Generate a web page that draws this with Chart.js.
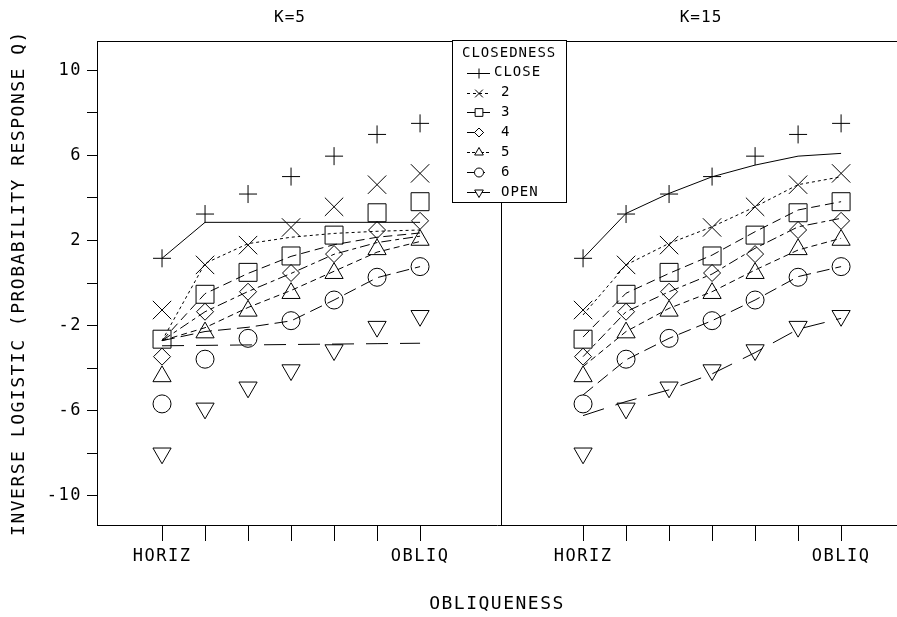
<!DOCTYPE html>
<html><head><meta charset="utf-8">
<script src="https://cdn.jsdelivr.net/npm/chart.js@4/dist/chart.umd.min.js"></script>
<style>html,body{margin:0;padding:0;background:#fff;}#c{display:block}</style>
</head><body>
<canvas id="c" width="897" height="617"></canvas>
<script>
// ---------- data ----------
const obliqLevels = [1, 2, 3, 4, 5, 6, 7];
const xTickLabels = ['HORIZ', '', '', '', '', '', 'OBLIQ'];
const panelTitles = ['K=5', 'K=15'];
const seriesNames = ['CLOSE', '2', '3', '4', '5', '6', 'OPEN'];
const yTickValues = [-10, -8, -6, -4, -2, 0, 2, 4, 6, 8, 10];
const yTickLabels = ['-10', '', '-6', '', '-2', '', '2', '', '6', '', '10'];

// observed values (markers) - same in both panels
const obsClose = [1.16, 3.24, 4.18, 5.00, 5.96, 6.98, 7.50];
const obs2     = [-1.27, 0.85, 1.78, 2.61, 3.58, 4.62, 5.15];
const obs3     = [-2.64, -0.53, 0.50, 1.27, 2.25, 3.30, 3.82];
const obs4     = [-3.46, -1.35, -0.41, 0.47, 1.36, 2.49, 2.92];
const obs5     = [-4.39, -2.33, -1.31, -0.48, 0.46, 1.58, 2.02];
const obs6     = [-5.68, -3.58, -2.60, -1.77, -0.80, 0.27, 0.77];
const obsOpen  = [-8.00, -5.89, -4.90, -4.09, -3.15, -2.05, -1.54];

// fitted curves, K=5
const fitK5Close = [1.16, 2.85, 2.85, 2.85, 2.85, 2.85, 2.85];
const fitK5_2    = [-2.71, 0.92, 1.85, 2.15, 2.33, 2.43, 2.49];
const fitK5_3    = [-2.71, -0.50, 0.45, 1.25, 1.80, 2.15, 2.35];
const fitK5_4    = [-2.71, -1.35, -0.40, 0.45, 1.35, 1.90, 2.20];
const fitK5_5    = [-2.71, -2.10, -1.15, -0.35, 0.55, 1.45, 1.95];
const fitK5_6    = [-2.71, -2.28, -2.08, -1.78, -0.80, 0.25, 0.77];
const fitK5Open  = [-2.95, -2.93, -2.91, -2.89, -2.87, -2.85, -2.83];

// fitted curves, K=15
const fitK15Close = [1.16, 3.27, 4.21, 4.99, 5.54, 5.96, 6.09];
const fitK15_2    = [-1.50, 0.85, 1.86, 2.64, 3.58, 4.62, 4.99];
const fitK15_3    = [-2.54, -0.48, 0.45, 1.31, 2.41, 3.43, 3.82];
const fitK15_4    = [-3.46, -1.35, -0.41, 0.42, 1.63, 2.64, 3.04];
const fitK15_5    = [-3.93, -2.28, -1.19, -0.41, 0.61, 1.55, 2.10];
const fitK15_6    = [-5.26, -3.61, -2.60, -1.77, -0.80, 0.30, 0.77];
const fitK15Open  = [-6.23, -5.57, -5.02, -4.27, -3.27, -2.17, -1.66];

// ---------- presentation ----------
const observed = [obsClose, obs2, obs3, obs4, obs5, obs6, obsOpen];
const fitted = [
  [fitK5Close, fitK5_2, fitK5_3, fitK5_4, fitK5_5, fitK5_6, fitK5Open],
  [fitK15Close, fitK15_2, fitK15_3, fitK15_4, fitK15_5, fitK15_6, fitK15Open]
];
const styles = [
  {ps: 'cross',    r: 9,    rot: 0,   lr: 5,   dash: [],            ldash: []},
  {ps: 'crossRot', r: 13,   rot: 0,   lr: 5.5, dash: [3, 3],        ldash: [3, 3]},
  {ps: 'rect',     r: 12.7, rot: 0,   lr: 5.5, dash: [9, 5],        ldash: [9, 5]},
  {ps: 'rectRot',  r: 8.5,  rot: 0,   lr: 4.5, dash: [10, 4, 4, 4], ldash: [8, 6, 3, 6]},
  {ps: 'triangle', r: 10.5, rot: 0,   lr: 5,   dash: [6, 4],        ldash: [3, 2, 3, 6]},
  {ps: 'circle',   r: 9,    rot: 0,   lr: 4.5, dash: [13, 6],       ldash: [8, 7, 3, 6]},
  {ps: 'triangle', r: 10.5, rot: 180, lr: 5,   dash: [22, 12],      ldash: []}
];
const panelOffset = [0, 9.79];   // x-units between panels
const dividerAt = 7.884;
const xMin = -1.512, xMax = 17.09;

const datasets = [];
for (let p = 0; p < 2; p++) {
  for (let s = 0; s < 7; s++) {
    datasets.push({
      type: 'line',
      data: obliqLevels.map((lv, i) => ({x: panelOffset[p] + lv - 1, y: fitted[p][s][i]})),
      borderColor: '#000', borderWidth: 1, borderDash: styles[s].dash,
      pointRadius: 0, tension: 0, fill: false
    });
  }
  for (let s = 0; s < 7; s++) {
    datasets.push({
      type: 'line', showLine: false,
      data: obliqLevels.map((lv, i) => ({x: panelOffset[p] + lv - 1, y: observed[s][i]})),
      pointStyle: styles[s].ps, pointRadius: styles[s].r, pointRotation: styles[s].rot,
      pointBorderColor: '#000', pointBackgroundColor: 'rgba(0,0,0,0)', pointBorderWidth: 1,
      borderColor: '#000', backgroundColor: 'rgba(0,0,0,0)'
    });
  }
}
const xTickPositions = [];
for (let p = 0; p < 2; p++) obliqLevels.forEach(lv => xTickPositions.push(panelOffset[p] + lv - 1));

const FONT = "'DejaVu Sans Mono', monospace";

const framePlugin = {
  id: 'frame',
  beforeDraw(chart) { chart.ctx.letterSpacing = '1.5px'; },
  afterDatasetsDraw(chart) {
    const {ctx, chartArea} = chart;
    const xs = chart.scales.x;
    ctx.save();
    ctx.strokeStyle = '#000'; ctx.lineWidth = 1; ctx.setLineDash([]);
    ctx.beginPath();
    ctx.moveTo(chartArea.left, Math.round(chartArea.top) + 0.5);
    ctx.lineTo(chartArea.right, Math.round(chartArea.top) + 0.5);
    const dx = Math.round(xs.getPixelForValue(dividerAt)) + 0.5;
    ctx.moveTo(dx, chartArea.top);
    ctx.lineTo(dx, chartArea.bottom);
    ctx.stroke();
    ctx.restore();
  },
  afterDraw(chart) {
    const ctx = chart.ctx;
    ctx.save();
    ctx.fillStyle = '#000';
    ctx.letterSpacing = '1px';
    ctx.font = "16px " + FONT;
    ctx.textAlign = 'center'; ctx.textBaseline = 'middle';
    ctx.fillText(panelTitles[0], 290, 18);
    ctx.fillText(panelTitles[1], 701, 18);
    // legend box
    const L = 452.5, T = 40.5, R = 566.5, B = 202.5;
    ctx.fillStyle = '#fff';
    ctx.fillRect(L, T, R - L, B - T);
    ctx.strokeStyle = '#000'; ctx.lineWidth = 1;
    ctx.strokeRect(L, T, R - L, B - T);
    ctx.fillStyle = '#000';
    ctx.font = "14px " + FONT;
    ctx.textAlign = 'left';
    ctx.fillText('CLOSEDNESS', 462, 53);
    const rowY = [72.5, 92.5, 112, 132, 152, 172, 192];
    for (let s = 0; s < 7; s++) {
      const y = Math.round(rowY[s]) + 0.5;
      ctx.setLineDash(styles[s].ldash);
      ctx.beginPath(); ctx.moveTo(467, y); ctx.lineTo(490, y); ctx.stroke();
      ctx.setLineDash([]);
      ctx.fillStyle = '#fff';
      if (Chart.helpers && Chart.helpers.drawPoint) {
        Chart.helpers.drawPoint(ctx, {pointStyle: styles[s].ps, radius: styles[s].lr, rotation: styles[s].rot, borderWidth: 1}, 479, y);
      }
      ctx.fillStyle = '#000';
      ctx.fillText(seriesNames[s], s === 0 ? 494 : 501, rowY[s]);
    }
    ctx.restore();
  }
};

new Chart(document.getElementById('c'), {
  data: {datasets},
  plugins: [framePlugin],
  options: {
    responsive: false, animation: false, devicePixelRatio: 1,
    layout: {autoPadding: false, padding: {top: 41, right: 0, left: 0, bottom: 0}},
    plugins: {legend: {display: false}, tooltip: {enabled: false}},
    events: [],
    scales: {
      x: {
        type: 'linear', position: 'bottom', min: xMin, max: xMax,
        afterBuildTicks: sc => { sc.ticks = xTickPositions.map(v => ({value: v})); },
        afterFit: sc => { sc.height = 92; },
        ticks: {
          autoSkip: false, maxRotation: 0, padding: 5, color: '#000',
          font: {family: FONT, size: 17},
          callback: (v, i) => xTickLabels[i % 7]
        },
        grid: {display: true, drawOnChartArea: false, drawTicks: true, tickLength: 16, color: '#000', lineWidth: 1},
        border: {display: true, color: '#000', width: 1},
        title: {display: true, text: 'OBLIQUENESS', color: '#000', font: {family: FONT, size: 18}, padding: {top: 0, bottom: 2}}
      },
      y: {
        type: 'linear', position: 'left', min: -11.37, max: 11.37,
        afterBuildTicks: sc => { sc.ticks = yTickValues.map(v => ({value: v})); },
        afterFit: sc => { sc.width = 97; },
        ticks: {
          autoSkip: false, padding: 5, color: '#000',
          font: {family: FONT, size: 17},
          callback: (v, i) => yTickLabels[i]
        },
        grid: {display: true, drawOnChartArea: false, drawTicks: true, tickLength: 10, color: '#000', lineWidth: 1},
        border: {display: true, color: '#000', width: 1},
        title: {display: true, text: 'INVERSE LOGISTIC (PROBABILITY RESPONSE Q)', color: '#000', font: {family: FONT, size: 18}, padding: {top: 9, bottom: 0}}
      }
    }
  }
});
</script>
</body></html>
